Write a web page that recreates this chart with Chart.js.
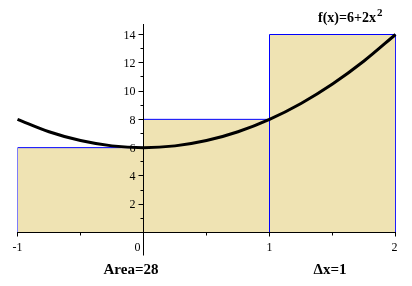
<!DOCTYPE html>
<html>
<head>
<meta charset="utf-8">
<script src="https://cdn.jsdelivr.net/npm/chart.js@4.4.1/dist/chart.umd.min.js"></script>
<style>
  html, body { margin: 0; padding: 0; background: #fff; }
  #chart { display: block; }
</style>
</head>
<body>
<canvas id="chart" width="412" height="286"></canvas>
<script>
// ** Data

// curve f(x)=6+2x^2, sampled points
let curveX = [-1, -0.75, -0.5, -0.25, 0, 0.25, 0.5, 0.75, 1, 1.25, 1.5, 1.75, 2];
let curveY = [8, 7.125, 6.5, 6.125, 6, 6.125, 6.5, 7.125, 8, 9.125, 10.5, 12.125, 14];

// right endpoint rectangles
let rectLeft = [-1, 0, 1];
let rectRight = [0, 1, 2];
let rectHeight = [6, 8, 14];

// axis ticks
let xMajorTicks = [-1, 0, 1, 2];
let xMinorTicks = [-0.5, 0.5, 1.5];
let yMajorTicks = [2, 4, 6, 8, 10, 12, 14];
let yMinorTicks = [1, 3, 5, 7, 9, 11, 13];

let titleText = 'f(x)=6+2x';
let titleSup = '2';
let areaText = 'Area=28';
let deltaText = '\u0394x=1';

// ** Build datasets

let curvePoints = curveX.map((x, i) => ({ x: x, y: curveY[i] }));

let rectSets = rectLeft.map((l, i) => ({
  data: [
    { x: l, y: 0 },
    { x: l, y: rectHeight[i] },
    { x: rectRight[i], y: rectHeight[i] },
    { x: rectRight[i], y: 0 }
  ],
  borderColor: '#0000ff',
  borderWidth: 1,
  backgroundColor: '#efe3b3',
  fill: 'origin',
  pointRadius: 0,
  tension: 0
}));

// axes drawn by hand on top of the rectangles, under the curve
let axesPlugin = {
  id: 'mapleAxes',
  afterDatasetDraw(chart, args) {
    if (args.index !== 1) return;
    let ctx = chart.ctx;
    let xs = chart.scales.x;
    let ys = chart.scales.y;
    let x0 = Math.floor(xs.getPixelForValue(0)) + 0.5;
    let y0 = Math.floor(ys.getPixelForValue(0)) + 0.5;

    ctx.save();
    ctx.strokeStyle = '#000';
    ctx.lineWidth = 1;
    ctx.beginPath();
    // y axis
    ctx.moveTo(x0, Math.floor(chart.chartArea.top));
    ctx.lineTo(x0, y0 + 23);
    // x axis
    ctx.moveTo(Math.floor(xs.getPixelForValue(-1)), y0);
    ctx.lineTo(Math.floor(xs.getPixelForValue(2)) + 1, y0);

    yMajorTicks.forEach(v => {
      let py = Math.floor(ys.getPixelForValue(v)) + 0.5;
      ctx.moveTo(x0 - 5, py);
      ctx.lineTo(x0, py);
    });
    yMinorTicks.forEach(v => {
      let py = Math.floor(ys.getPixelForValue(v)) + 0.5;
      ctx.moveTo(x0 - 3, py);
      ctx.lineTo(x0, py);
    });
    xMajorTicks.forEach(v => {
      let px = Math.floor(xs.getPixelForValue(v)) + 0.5;
      ctx.moveTo(px, y0);
      ctx.lineTo(px, y0 + 4);
    });
    xMinorTicks.forEach(v => {
      let px = Math.floor(xs.getPixelForValue(v)) + 0.5;
      ctx.moveTo(px, y0);
      ctx.lineTo(px, y0 + 3);
    });
    ctx.stroke();

    ctx.fillStyle = '#000';
    ctx.font = '12px "Liberation Serif"';
    ctx.textAlign = 'right';
    ctx.textBaseline = 'middle';
    yMajorTicks.forEach(v => {
      ctx.fillText(String(v), x0 - 8, ys.getPixelForValue(v) + 1);
    });
    ctx.textAlign = 'center';
    xMajorTicks.forEach(v => {
      let px = xs.getPixelForValue(v);
      if (v === 0) px -= 6;
      if (v === 2) px -= 1;
      ctx.fillText(String(v), px, y0 + 15);
    });
    ctx.restore();
  },
  afterDraw(chart) {
    let ctx = chart.ctx;
    ctx.save();
    ctx.fillStyle = '#000';
    ctx.textBaseline = 'alphabetic';
    ctx.textAlign = 'left';
    ctx.font = 'bold 14px "Liberation Serif"';
    ctx.fillText(titleText, 318, 22);
    let w = ctx.measureText(titleText).width;
    ctx.font = 'bold 11px "Liberation Serif"';
    ctx.fillText(titleSup, 318 + w + 1, 16);
    ctx.textAlign = 'center';
    ctx.font = 'bold 15px "Liberation Serif"';
    ctx.fillText(areaText, 131, 274);
    ctx.fillText(deltaText, 330, 274);
    ctx.restore();
  }
};

let chart = new Chart(document.getElementById('chart'), {
  type: 'line',
  data: {
    datasets: [
      {
        data: curvePoints,
        borderColor: '#000',
        borderWidth: 3,
        pointRadius: 0,
        fill: false,
        cubicInterpolationMode: 'monotone',
        clip: 6
      },
      ...rectSets
    ]
  },
  options: {
    responsive: false,
    animation: false,
    devicePixelRatio: 1,
    layout: { padding: { left: 17.5, right: 16.5, top: 24.6, bottom: 53.5 } },
    plugins: {
      legend: { display: false },
      tooltip: { enabled: false }
    },
    scales: {
      x: { type: 'linear', min: -1, max: 2, display: false },
      y: { type: 'linear', min: 0, max: 14.7, display: false }
    }
  },
  plugins: [axesPlugin]
});
</script>
</body>
</html>
